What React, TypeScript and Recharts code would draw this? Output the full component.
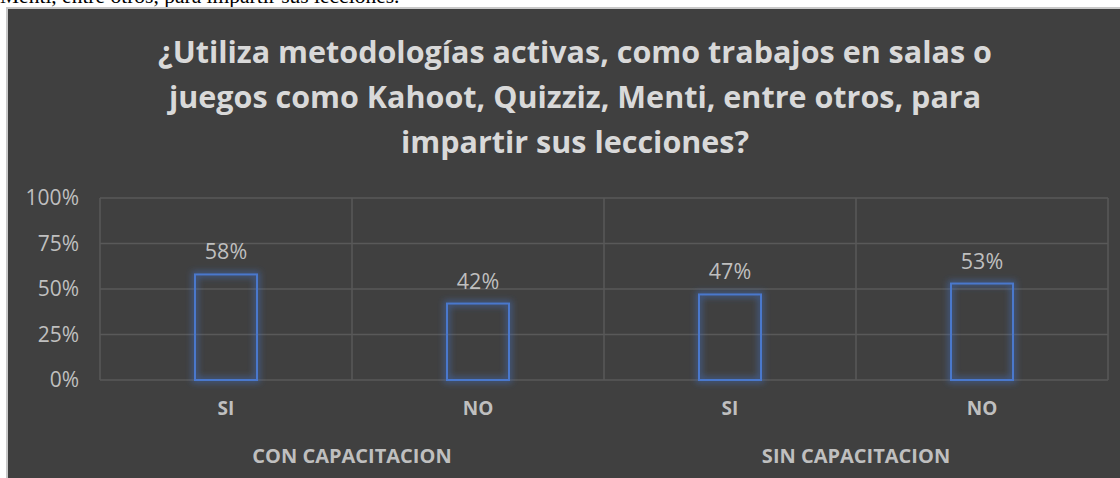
import React from 'react';
import { BarChart, Bar, XAxis, YAxis, CartesianGrid, LabelList } from 'recharts';

const answers = ['SI', 'NO', 'SI', 'NO'];
const groups = ['CON CAPACITACION', 'CON CAPACITACION', 'SIN CAPACITACION', 'SIN CAPACITACION'];
const values = [58, 42, 47, 53];
const yTicks = [0, 25, 50, 75, 100];

const data = answers.map((a, i) => ({ answer: a, group: groups[i], value: values[i] }));

const W = 1112;
const H = 469;
const M = { top: 189, right: 12, left: 0, bottom: 0 };
const Y_W = 92;
const catW = (W - Y_W - M.right) / answers.length;

const txt = '#bfbfbf';
const font = '"Open Sans", Lato, sans-serif';

const GlowBar = (props: any) => {
  const { x, y, width, height } = props;
  return (
    <g>
      <rect x={x} y={y} width={width} height={height} fill="none" stroke="#4472c4" strokeWidth={6} strokeOpacity={0.5} filter="url(#glow)" />
      <rect x={x} y={y} width={width} height={height} fill="none" stroke="#4a78cc" strokeWidth={2} />
    </g>
  );
};

const GroupTick = (props: any) => {
  const { x, y, index, payload } = props;
  if (index % 2 !== 0) return null;
  return (
    <text x={x + catW / 2} y={y + 30} textAnchor="middle" fill={txt} fontSize={20} fontWeight="bold" fontFamily={font}>
      {payload.value}
    </text>
  );
};

export default function App() {
  return (
    <div style={{ position: 'absolute', left: 0, top: 0, width: 1120, height: 478, background: '#fff', overflow: 'hidden' }}>
      <div style={{ position: 'absolute', left: 0, top: -16, fontFamily: '"Liberation Serif", serif', fontSize: 21.5, color: '#000', whiteSpace: 'nowrap' }}>
        Menti, entre otros, para impartir sus lecciones.
      </div>
      <div style={{ position: 'absolute', left: 6, top: 7, width: 1114, height: 471, background: '#404040', borderLeft: '2px solid #c8c8c8', borderTop: '2px solid #c8c8c8', boxSizing: 'border-box' }}>
        <div style={{ position: 'absolute', left: 0, top: 20, width: 1134, textAlign: 'center', fontFamily: font, fontWeight: 'bold', fontSize: 30.5, lineHeight: '45px', color: '#d9d9d9', whiteSpace: 'nowrap' }}>
          ¿Utiliza metodologías activas, como trabajos en salas o<br />
          juegos como Kahoot, Quizziz, Menti, entre otros, para<br />
          impartir sus lecciones?
        </div>
        <div style={{ position: 'absolute', left: 0, top: 0 }}>
          <BarChart width={W} height={H} data={data} margin={M} barCategoryGap={0}>
            <defs>
              <filter id="glow" x="-30%" y="-30%" width="160%" height="160%">
                <feGaussianBlur stdDeviation="3" />
              </filter>
            </defs>
            <CartesianGrid
              stroke="#595959"
              strokeWidth={1.5}
              verticalCoordinatesGenerator={({ offset }: any) => [0, 1, 2, 3, 4].map((i) => offset.left + (i * offset.width) / 4)}
            />
            <XAxis dataKey="answer" interval={0} height={45} axisLine={false} tickLine={false} tick={{ fill: txt, fontSize: 19, fontWeight: 'bold', fontFamily: font }} tickMargin={16} />
            <XAxis xAxisId="grp" dataKey="group" interval={0} height={53} axisLine={false} tickLine={false} tick={<GroupTick />} />
            <YAxis width={Y_W} domain={[0, 100]} ticks={yTicks} axisLine={false} tickLine={false} tickFormatter={(v: number) => `${v}%`} tick={{ fill: txt, fontSize: 21, fontFamily: font }} tickMargin={15} />
            <Bar dataKey="value" barSize={62} shape={<GlowBar />} isAnimationActive={false}>
              <LabelList dataKey="value" position="top" offset={15} formatter={(v: number) => `${v}%`} fill={txt} fontSize={21.5} fontFamily={font} />
            </Bar>
          </BarChart>
        </div>
      </div>
    </div>
  );
}
